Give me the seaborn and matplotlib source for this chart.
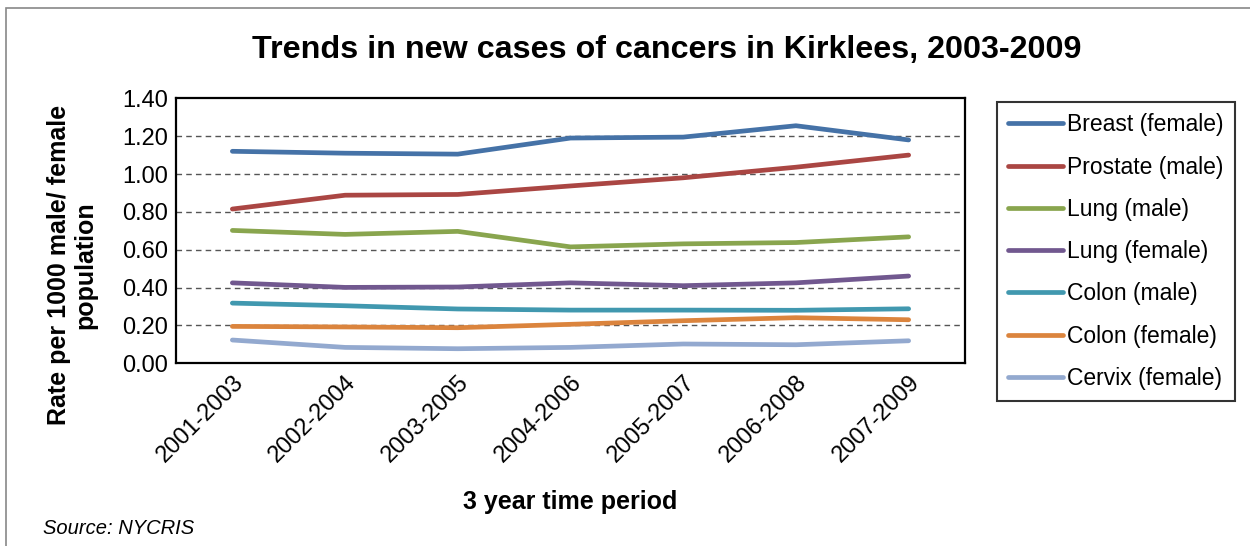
import matplotlib
matplotlib.use("Agg")
import matplotlib.pyplot as plt
import seaborn as sns
import pandas as pd
from matplotlib.patches import Rectangle

periods = ["2001-2003", "2002-2004", "2003-2005", "2004-2006", "2005-2007", "2006-2008", "2007-2009"]
breast_female = [1.12, 1.11, 1.105, 1.19, 1.195, 1.255, 1.18]
prostate_male = [0.815, 0.888, 0.892, 0.937, 0.98, 1.036, 1.10]
lung_male = [0.702, 0.681, 0.697, 0.615, 0.631, 0.638, 0.668]
lung_female = [0.425, 0.401, 0.403, 0.425, 0.41, 0.425, 0.461]
colon_male = [0.318, 0.304, 0.287, 0.281, 0.281, 0.28, 0.288]
colon_female = [0.195, 0.192, 0.188, 0.206, 0.225, 0.241, 0.23]
cervix_female = [0.123, 0.084, 0.077, 0.084, 0.102, 0.098, 0.119]

series_names = ["Breast (female)", "Prostate (male)", "Lung (male)", "Lung (female)",
                "Colon (male)", "Colon (female)", "Cervix (female)"]
series_values = [breast_female, prostate_male, lung_male, lung_female,
                 colon_male, colon_female, cervix_female]
colors = ["#4572A7", "#AA4643", "#89A54E", "#71588F", "#4198AF", "#DB843D", "#93A9CF"]

rows = []
for name, vals in zip(series_names, series_values):
    for p, v in zip(periods, vals):
        rows.append({"period": p, "series": name, "rate": v})
df = pd.DataFrame(rows)

sns.set_theme(style="white")
plt.rcParams["font.family"] = ["Liberation Sans", "DejaVu Sans"]
plt.rcParams["text.color"] = "black"
plt.rcParams["xtick.color"] = "black"
plt.rcParams["ytick.color"] = "black"

fig = plt.figure(figsize=(12.5, 5.46), dpi=100)
W, H = 1250, 546
ax = fig.add_axes([176 / W, 1 - 363.3 / H, (965 - 176) / W, (363.3 - 98.3) / H])

sns.lineplot(data=df, x="period", y="rate", hue="series", hue_order=series_names,
             palette=colors, linewidth=3.4, sort=False, ax=ax, legend=True)
for ln in ax.get_lines():
    ln.set_solid_capstyle("round")
    ln.set_solid_joinstyle("round")

ax.set_xlim(-0.5, len(periods) - 0.5)
ax.set_ylim(0, 1.4)
ax.set_yticks([0, 0.2, 0.4, 0.6, 0.8, 1.0, 1.2, 1.4])
ax.set_yticklabels([f"{v:.2f}" for v in [0, 0.2, 0.4, 0.6, 0.8, 1.0, 1.2, 1.4]], fontsize=17)
ax.set_xticks(range(len(periods)))
ax.set_xticklabels(periods, fontsize=17, rotation=45, ha="right", rotation_mode="anchor")
ax.tick_params(axis="both", length=0, pad=6, colors="black")
ax.tick_params(axis="x", pad=6)
for lbl in ax.get_xticklabels():
    lbl.set_x(lbl.get_position()[0])
for yv in [0.2, 0.4, 0.6, 0.8, 1.0, 1.2]:
    ax.axhline(yv, color="#555555", linewidth=1.0, linestyle=(0, (4, 3)), zorder=0)
for s in ax.spines.values():
    s.set_color("black")
    s.set_linewidth(1.6)
ax.set_xlabel("")
ax.set_ylabel("")

leg = ax.legend(loc="upper left", bbox_to_anchor=(997 / W, 1 - 102 / H),
                bbox_transform=fig.transFigure, frameon=True, fancybox=False,
                fontsize=16.5, handlelength=2.4, handletextpad=0.15,
                labelspacing=0.84, borderpad=0.5, borderaxespad=0)
leg.get_frame().set_edgecolor("black")
leg.get_frame().set_linewidth(1.5)
for h in leg.get_lines():
    h.set_linewidth(3.4)
    h.set_solid_capstyle("round")
for t in leg.get_texts():
    t.set_color("black")

fig.text(667 / W, 1 - 50 / H, "Trends in new cases of cancers in Kirklees, 2003-2009",
         ha="center", va="center", fontsize=23.2, fontweight="bold", color="black")
fig.text(72 / W, 1 - 265 / H, "Rate per 1000 male/ female\npopulation", rotation=90,
         ha="center", va="center", fontsize=18, fontweight="bold", linespacing=1.15,
         multialignment="center", color="black")
fig.text(570 / W, 1 - 502 / H, "3 year time period", ha="center", va="center",
         fontsize=18, fontweight="bold", color="black")
fig.text(43 / W, 1 - 528 / H, "Source: NYCRIS", ha="left", va="center",
         fontsize=14.5, fontstyle="italic", color="black")

fig.patches.append(Rectangle((6 / W, -0.1), 1.2, (1 - 8 / H) + 0.1, transform=fig.transFigure,
                             fill=False, edgecolor="#888888", linewidth=1.2))

fig.savefig("out.png", dpi=100)
